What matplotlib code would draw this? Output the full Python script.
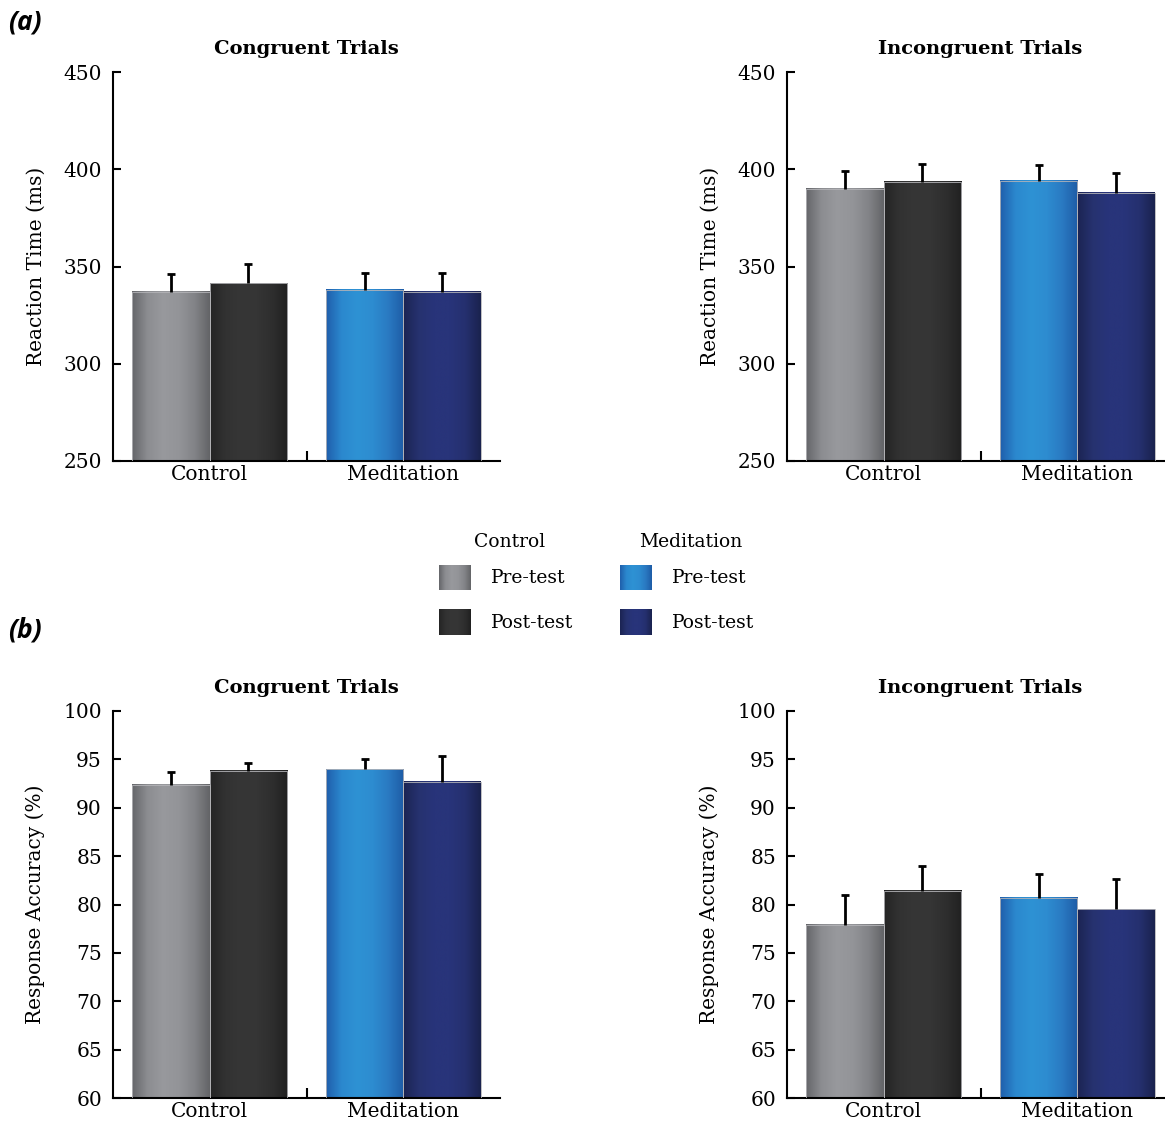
import numpy as np
import matplotlib.pyplot as plt
from matplotlib.colors import LinearSegmentedColormap

# groups and sessions
groups = ["Control", "Meditation"]
sessions = ["Pre-test", "Post-test"]

# values per group: [pre-test, post-test]
rt_congruent = [[337, 341.5], [338, 337]]
rt_congruent_err = [[9, 10], [8.5, 9.5]]
rt_incongruent = [[390, 393.5], [394, 388]]
rt_incongruent_err = [[9, 9], [8, 10]]

acc_congruent = [[92.4, 93.8], [94.0, 92.7]]
acc_congruent_err = [[1.3, 0.8], [1.0, 2.6]]
acc_incongruent = [[77.9, 81.4], [80.7, 79.5]]
acc_incongruent_err = [[3.1, 2.6], [2.5, 3.1]]

rt_ticks = [250, 300, 350, 400, 450]
acc_ticks = [60, 65, 70, 75, 80, 85, 90, 95, 100]

# horizontal shading of each bar (edge -> middle -> edge)
shades = {
    ("Control", "Pre-test"): ["#65666a", "#8c8d91", "#98999d", "#939498", "#838488", "#636467"],
    ("Control", "Post-test"): ["#242424", "#323232", "#363636", "#353535", "#2e2e2e", "#212121"],
    ("Meditation", "Pre-test"): ["#1f5eab", "#2b88ce", "#2e92d4", "#2d8cd0", "#2a7ac2", "#1e5ca6"],
    ("Meditation", "Post-test"): ["#1b2352", "#26326f", "#28347a", "#28347a", "#25306f", "#1a224e"],
}
cmaps = {k: LinearSegmentedColormap.from_list(str(k), v) for k, v in shades.items()}
grad = np.linspace(0, 1, 256).reshape(1, -1)

plt.rcParams['font.family'] = ['DejaVu Serif']
W, H = 1165, 1125
fig = plt.figure(figsize=(W / 100, H / 100), dpi=100)

bar_w = 0.4


def draw_panel(rect, values, errs, ticks, ylabel, title):
    ax = fig.add_axes(rect)
    y0, y1 = ticks[0], ticks[-1]
    for gi, g in enumerate(groups):
        for si, s in enumerate(sessions):
            x = gi + (si - 0.5) * bar_w
            v = values[gi][si]
            ax.imshow(grad, extent=[x - bar_w / 2, x + bar_w / 2, y0, v],
                      aspect='auto', cmap=cmaps[(g, s)], zorder=2)
            ax.bar(x, v, width=bar_w, facecolor='none', edgecolor='#b4b4b8',
                   linewidth=0.6, zorder=3)
            eb = ax.errorbar(x, v, yerr=[[0], [errs[gi][si]]], fmt='none',
                             ecolor='black', elinewidth=2, capsize=2.8,
                             capthick=2, zorder=4)
            eb[1][0].set_visible(False)
    ax.set_xlim(-0.5, 1.5)
    ax.set_ylim(y0, y1)
    ax.set_yticks(ticks)
    ax.set_xticks(range(len(groups)))
    ax.set_xticklabels(groups)
    ax.set_xticks([0.5], minor=True)
    ax.tick_params(axis='x', which='major', length=0, pad=3, labelsize=14.5)
    ax.tick_params(axis='x', which='minor', direction='in', length=7, width=1.5)
    ax.tick_params(axis='y', direction='in', length=6, width=1.5, pad=8, labelsize=14.5)
    for sp in ['top', 'right']:
        ax.spines[sp].set_visible(False)
    for sp in ['left', 'bottom']:
        ax.spines[sp].set_linewidth(1.5)
    ax.set_ylabel(ylabel, fontsize=14.5, labelpad=13)
    ax.set_title(title, fontsize=14, fontweight='bold', pad=13)
    return ax


def rect(px_left, px_top, px_w, px_h):
    return [px_left / W, 1 - (px_top + px_h) / H, px_w / W, px_h / H]


draw_panel(rect(113, 72, 387, 389), rt_congruent, rt_congruent_err,
           rt_ticks, "Reaction Time (ms)", "Congruent Trials")
draw_panel(rect(787, 72, 387, 389), rt_incongruent, rt_incongruent_err,
           rt_ticks, "Reaction Time (ms)", "Incongruent Trials")
draw_panel(rect(113, 711, 387, 387), acc_congruent, acc_congruent_err,
           acc_ticks, "Response Accuracy (%)", "Congruent Trials")
draw_panel(rect(787, 711, 387, 387), acc_incongruent, acc_incongruent_err,
           acc_ticks, "Response Accuracy (%)", "Incongruent Trials")

# legend built by hand so the swatches keep the bar shading
lg = fig.add_axes(rect(430, 525, 340, 125))
lg.axis('off')
for gi, g in enumerate(groups):
    x0 = 9 + gi * 181
    lg.text(x0 + 71, 17, g, ha='center', va='center', fontsize=13.5)
    for si, s in enumerate(sessions):
        yc = 53 + si * 45
        lg.imshow(grad, extent=[x0, x0 + 32, yc + 12.5, yc - 12.5],
                  aspect='auto', cmap=cmaps[(g, s)])
        lg.text(x0 + 52, yc, s, ha='left', va='center', fontsize=13.5)
lg.set_xlim(0, 340)
lg.set_ylim(125, 0)

fig.text(8 / W, 1 - 22 / H, "(a)", family='Open Sans', fontweight='bold',
         style='italic', fontsize=19, va='center')
fig.text(8 / W, 1 - 630 / H, "(b)", family='Open Sans', fontweight='bold',
         style='italic', fontsize=19, va='center')

fig.savefig("out.png", dpi=100)
